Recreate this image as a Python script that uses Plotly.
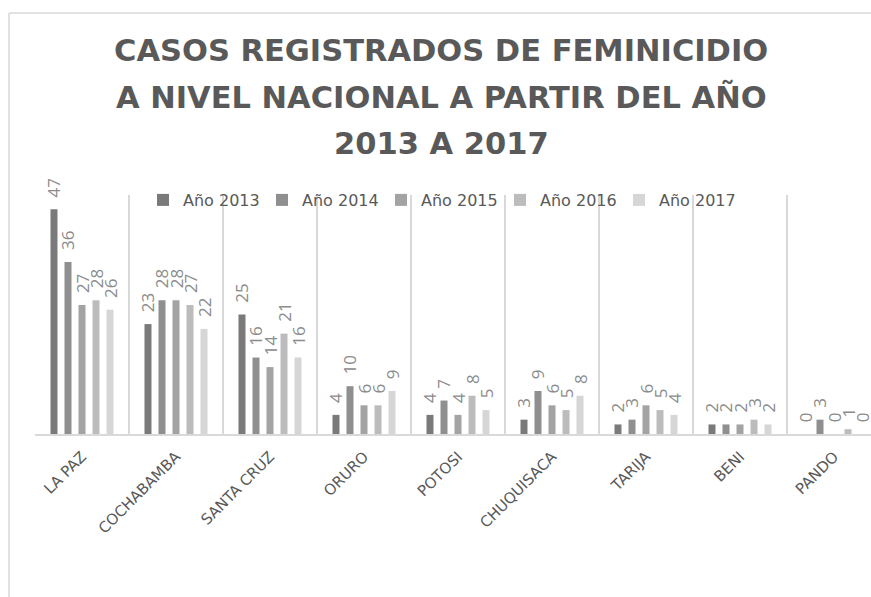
import plotly.graph_objects as go

categories = ["LA PAZ", "COCHABAMBA", "SANTA CRUZ", "ORURO", "POTOSI",
              "CHUQUISACA", "TARIJA", "BENI", "PANDO"]
series_names = ["Año 2013", "Año 2014", "Año 2015", "Año 2016", "Año 2017"]
v2013 = [47, 23, 25, 4, 4, 3, 2, 2, 0]
v2014 = [36, 28, 16, 10, 7, 9, 3, 2, 3]
v2015 = [27, 28, 14, 6, 4, 6, 6, 2, 0]
v2016 = [28, 27, 21, 6, 8, 5, 5, 3, 1]
v2017 = [26, 22, 16, 9, 5, 8, 4, 2, 0]
title_lines = ["CASOS REGISTRADOS DE FEMINICIDIO",
               "A NIVEL NACIONAL A PARTIR DEL AÑO",
               "2013 A 2017"]

colors = ["#7a7a7a", "#8f8f8f", "#a3a3a3", "#bcbcbc", "#d6d6d6"]

W, H = 871, 597
PLOT_LEFT, PLOT_TOP, PLOT_BOTTOM = 35, 195, 434   # screen px
L = PLOT_LEFT
T = PLOT_TOP
B = H - PLOT_BOTTOM
R = 0
plot_w = W - L - R
plot_h = H - T - B
cat_px = 94.0


def px_x(px):
    return (px - PLOT_LEFT) / plot_w


def px_y(py):
    return (PLOT_BOTTOM - py) / plot_h


fig = go.Figure()
for name, vals, col in zip(series_names, [v2013, v2014, v2015, v2016, v2017], colors):
    fig.add_trace(go.Bar(
        x=categories, y=vals, name=name,
        marker=dict(color=col, line=dict(width=0)),
        texttemplate="\u00a0\u00a0%{y}",
        textposition="outside", textangle=-90,
        constraintext="none", cliponaxis=False,
        textfont=dict(family="Open Sans", size=17, color="#8c8c8c"),
    ))

annotations = []
for line, py in zip(title_lines, [50, 97, 143]):
    annotations.append(dict(
        text=line, xref="paper", yref="paper", x=px_x(441), y=px_y(py),
        xanchor="center", yanchor="middle", showarrow=False,
        font=dict(family="DejaVu Sans", size=30.5, color="#595959", weight="bold"),
    ))

shapes = [
    dict(type="line", xref="paper", yref="paper", x0=px_x(9), x1=px_x(900),
         y0=px_y(13), y1=px_y(13), line=dict(color="#d9d9d9", width=1.5)),
    dict(type="line", xref="paper", yref="paper", x0=px_x(9), x1=px_x(9),
         y0=px_y(13), y1=px_y(620), line=dict(color="#d9d9d9", width=1.5)),
]

fig.update_layout(
    width=W, height=H,
    margin=dict(l=L, r=R, t=T, b=B, pad=0),
    paper_bgcolor="white", plot_bgcolor="white",
    barmode="group", bargap=0.255, bargroupgap=0.5,
    showlegend=True,
    legend=dict(orientation="h", x=px_x(143), y=px_y(200), xanchor="left",
                yanchor="middle", bgcolor="rgba(0,0,0,0)",
                font=dict(family="DejaVu Sans", size=16, color="#595959"),
                itemwidth=30, entrywidth=74, traceorder="normal"),
    annotations=annotations, shapes=shapes,
    xaxis=dict(type="category", range=[-0.5, -0.5 + plot_w / cat_px],
               tickson="boundaries", showgrid=True, gridcolor="#d9d9d9", gridwidth=1.5,
               ticks="", tickangle=-45, ticklabelstandoff=6,
               tickfont=dict(family="DejaVu Sans", size=15, color="#595959"),
               showline=True, linecolor="#d9d9d9", linewidth=2, zeroline=False),
    yaxis=dict(range=[0, 50], showgrid=False, showticklabels=False, zeroline=False,
               showline=False, ticks=""),
)

fig.write_html("out.html",
               config={"displayModeBar": False},
               post_script="document.body.style.margin='0';document.body.style.overflow='hidden';")
